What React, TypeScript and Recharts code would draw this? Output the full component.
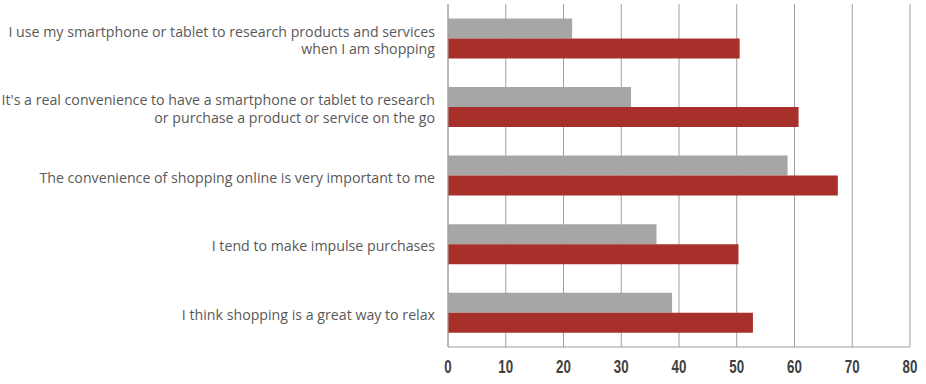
import React from "react";
import { BarChart, Bar, XAxis, YAxis, CartesianGrid } from "recharts";

const categories = [
  "I use my smartphone or tablet to research products and services\nwhen I am shopping",
  "It's a real convenience to have a smartphone or tablet to research\nor purchase a product or service on the go",
  "The convenience of shopping online is very important to me",
  "I tend to make impulse purchases",
  "I think shopping is a great way to relax",
];
const grayValues = [21.5, 31.7, 58.8, 36.1, 38.8];
const redValues = [50.5, 60.7, 67.5, 50.3, 52.8];
const xTicks = [0, 10, 20, 30, 40, 50, 60, 70, 80];
const boundaryTicks = [0, 1, 2, 3, 4, 5];

const data = categories.map((c, i) => ({ name: c, gray: grayValues[i], red: redValues[i] }));

const CategoryTick = (props: any) => {
  const { x, y, payload } = props;
  const lines = String(payload.value).split("\n");
  const lh = 17.6;
  const startDy = -((lines.length - 1) * lh) / 2;
  return (
    <text
      x={x}
      y={y}
      textAnchor="end"
      fill="#595959"
      fontFamily="'Open Sans', 'Liberation Sans', Arial, sans-serif"
      fontSize={14.2}
    >
      {lines.map((l, i) => (
        <tspan key={i} x={x} dy={i === 0 ? startDy + 7 : lh}>
          {l}
        </tspan>
      ))}
    </text>
  );
};

const NumberTick = (props: any) => {
  const { x, y, payload } = props;
  return (
    <g transform={`translate(${x},${y + 13.5}) scale(0.74,1)`}>
      <text
        x={0}
        y={0}
        textAnchor="middle"
        fill="#404040"
        fontFamily="'Liberation Sans', Arial, sans-serif"
        fontWeight="bold"
        fontSize={18}
      >
        {payload.value}
      </text>
    </g>
  );
};

export default function App() {
  return (
    <div style={{ position: "absolute", left: 0, top: 0, background: "#fff" }}>
      <BarChart
        width={926}
        height={384}
        data={data}
        layout="vertical"
        margin={{ top: 4, right: 16, bottom: 0, left: 0 }}
        barCategoryGap="21%"
        barGap={0}
      >
        <CartesianGrid horizontal={false} stroke="#A0A0A0" />
        <XAxis
          type="number"
          domain={[0, 80]}
          ticks={xTicks}
          height={37}
          axisLine={{ stroke: "#A0A0A0" }}
          tickLine={false}
          tickSize={6}
          tickMargin={6}
          interval={0}
          tick={<NumberTick />}
        />
        <YAxis
          yAxisId="bounds"
          type="number"
          domain={[0, 5]}
          ticks={boundaryTicks}
          width={0}
          tick={false}
          tickSize={4}
          tickLine={{ stroke: "#A0A0A0" }}
          axisLine={{ stroke: "#A0A0A0" }}
          allowDataOverflow
        />
        <YAxis
          type="category"
          dataKey="name"
          width={448}
          axisLine={{ stroke: "#A0A0A0" }}
          tickLine={false}
          tickSize={4}
          tickMargin={9}
          interval={0}
          tick={<CategoryTick />}
        />
        <Bar dataKey="gray" fill="#A6A6A6" isAnimationActive={false} />
        <Bar dataKey="red" fill="#A8302A" isAnimationActive={false} />
      </BarChart>
    </div>
  );
}
